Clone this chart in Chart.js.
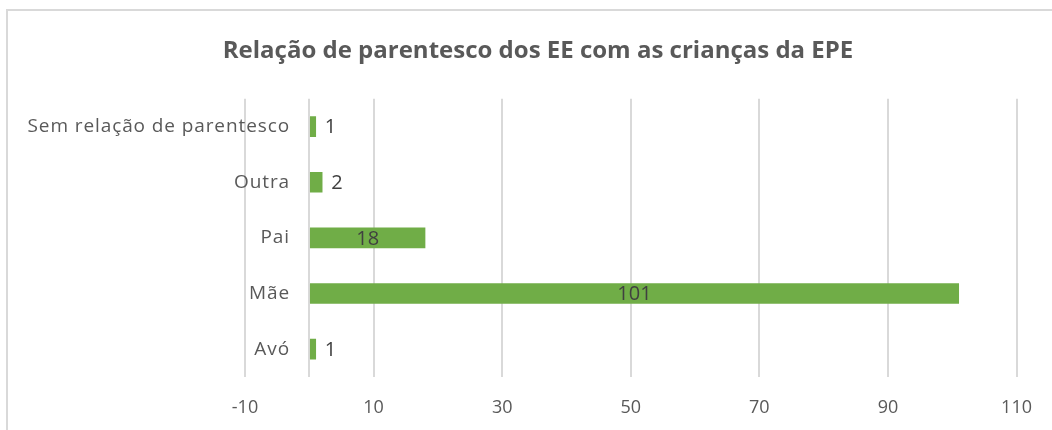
<!DOCTYPE html>
<html>
<head>
<meta charset="utf-8">
<script src="https://cdn.jsdelivr.net/npm/chart.js@4"></script>
<style>
  html, body { margin: 0; padding: 0; background: #fff; overflow: hidden; }
  #frame {
    position: absolute; left: 6px; top: 9px; width: 1100px; height: 480px;
    border: 2px solid #d9d9d9; box-sizing: border-box;
  }
  #wrap { position: absolute; left: 0; top: 0; width: 1052px; height: 430px; }
</style>
</head>
<body>
<div id="frame"></div>
<div id="wrap"><canvas id="chart" width="1052" height="430"></canvas></div>
<script>
// Daten
const categories = ["Sem relação de parentesco", "Outra", "Pai", "Mãe", "Avó"];
const values = [1, 2, 18, 101, 1];
const xTicks = [-10, 0, 10, 30, 50, 70, 90, 110];

const FONT = "'Open Sans', 'Liberation Sans', sans-serif";

// Kategorie-Beschriftung selbst zeichnen, damit sie in den Plotbereich ragen darf
const catLabels = {
  id: "catLabels",
  afterDraw(chart) {
    const ctx = chart.ctx;
    const y = chart.scales.y;
    ctx.save();
    ctx.font = "19px " + FONT;
    ctx.fillStyle = "#595959";
    ctx.textAlign = "right";
    ctx.textBaseline = "middle";
    if ("letterSpacing" in ctx) ctx.letterSpacing = "0.9px";
    categories.forEach((c, i) => {
      ctx.fillText(c, chart.chartArea.left + 45, y.getPixelForTick(i));
    });
    ctx.restore();
  }
};

// Werte an die Balken schreiben (kleine Werte rechts daneben, sonst mittig)
const barLabels = {
  id: "barLabels",
  afterDatasetsDraw(chart) {
    const ctx = chart.ctx;
    const meta = chart.getDatasetMeta(0);
    ctx.save();
    ctx.font = "20px " + FONT;
    ctx.fillStyle = "#404040";
    ctx.textBaseline = "middle";
    meta.data.forEach((bar, i) => {
      const v = values[i];
      if (v < 10) {
        ctx.textAlign = "left";
        ctx.fillText(String(v), bar.x + 9, bar.y + 1);
      } else {
        ctx.textAlign = "center";
        ctx.fillText(String(v), (bar.x + bar.base) / 2, bar.y + 1);
      }
    });
    ctx.restore();
  }
};

new Chart(document.getElementById("chart").getContext("2d"), {
  type: "bar",
  data: {
    labels: categories,
    datasets: [{
      data: values,
      backgroundColor: "#70ad47",
      borderWidth: 0,
      barThickness: 20
    }]
  },
  options: {
    indexAxis: "y",
    responsive: false,
    animation: false,
    layout: { padding: { left: 41, right: 17, top: 0, bottom: 11 } },
    plugins: {
      legend: { display: false },
      tooltip: { enabled: false },
      title: {
        display: true,
        text: "Relação de parentesco dos EE com as crianças da EPE",
        color: "#595959",
        font: { family: FONT, size: 24, weight: "bold" },
        padding: { top: 37, bottom: 33 }
      }
    },
    scales: {
      x: {
        min: -10,
        max: 110,
        afterBuildTicks: (scale) => {
          scale.ticks = xTicks.map(v => ({ value: v }));
        },
        afterFit: (scale) => { scale.height = 42; },
        ticks: {
          color: "#595959",
          font: { family: FONT, size: 18 },
          padding: 20,
          maxRotation: 0,
          callback: (value) => value === 0 ? "" : String(value)
        },
        grid: { color: "#d9d9d9", lineWidth: 2, drawTicks: false },
        border: { display: false }
      },
      y: {
        afterFit: (scale) => { scale.width = 204; },
        ticks: { display: false },
        grid: { display: false, drawTicks: false },
        border: { display: false }
      }
    }
  },
  plugins: [barLabels, catLabels]
});
</script>
</body>
</html>
